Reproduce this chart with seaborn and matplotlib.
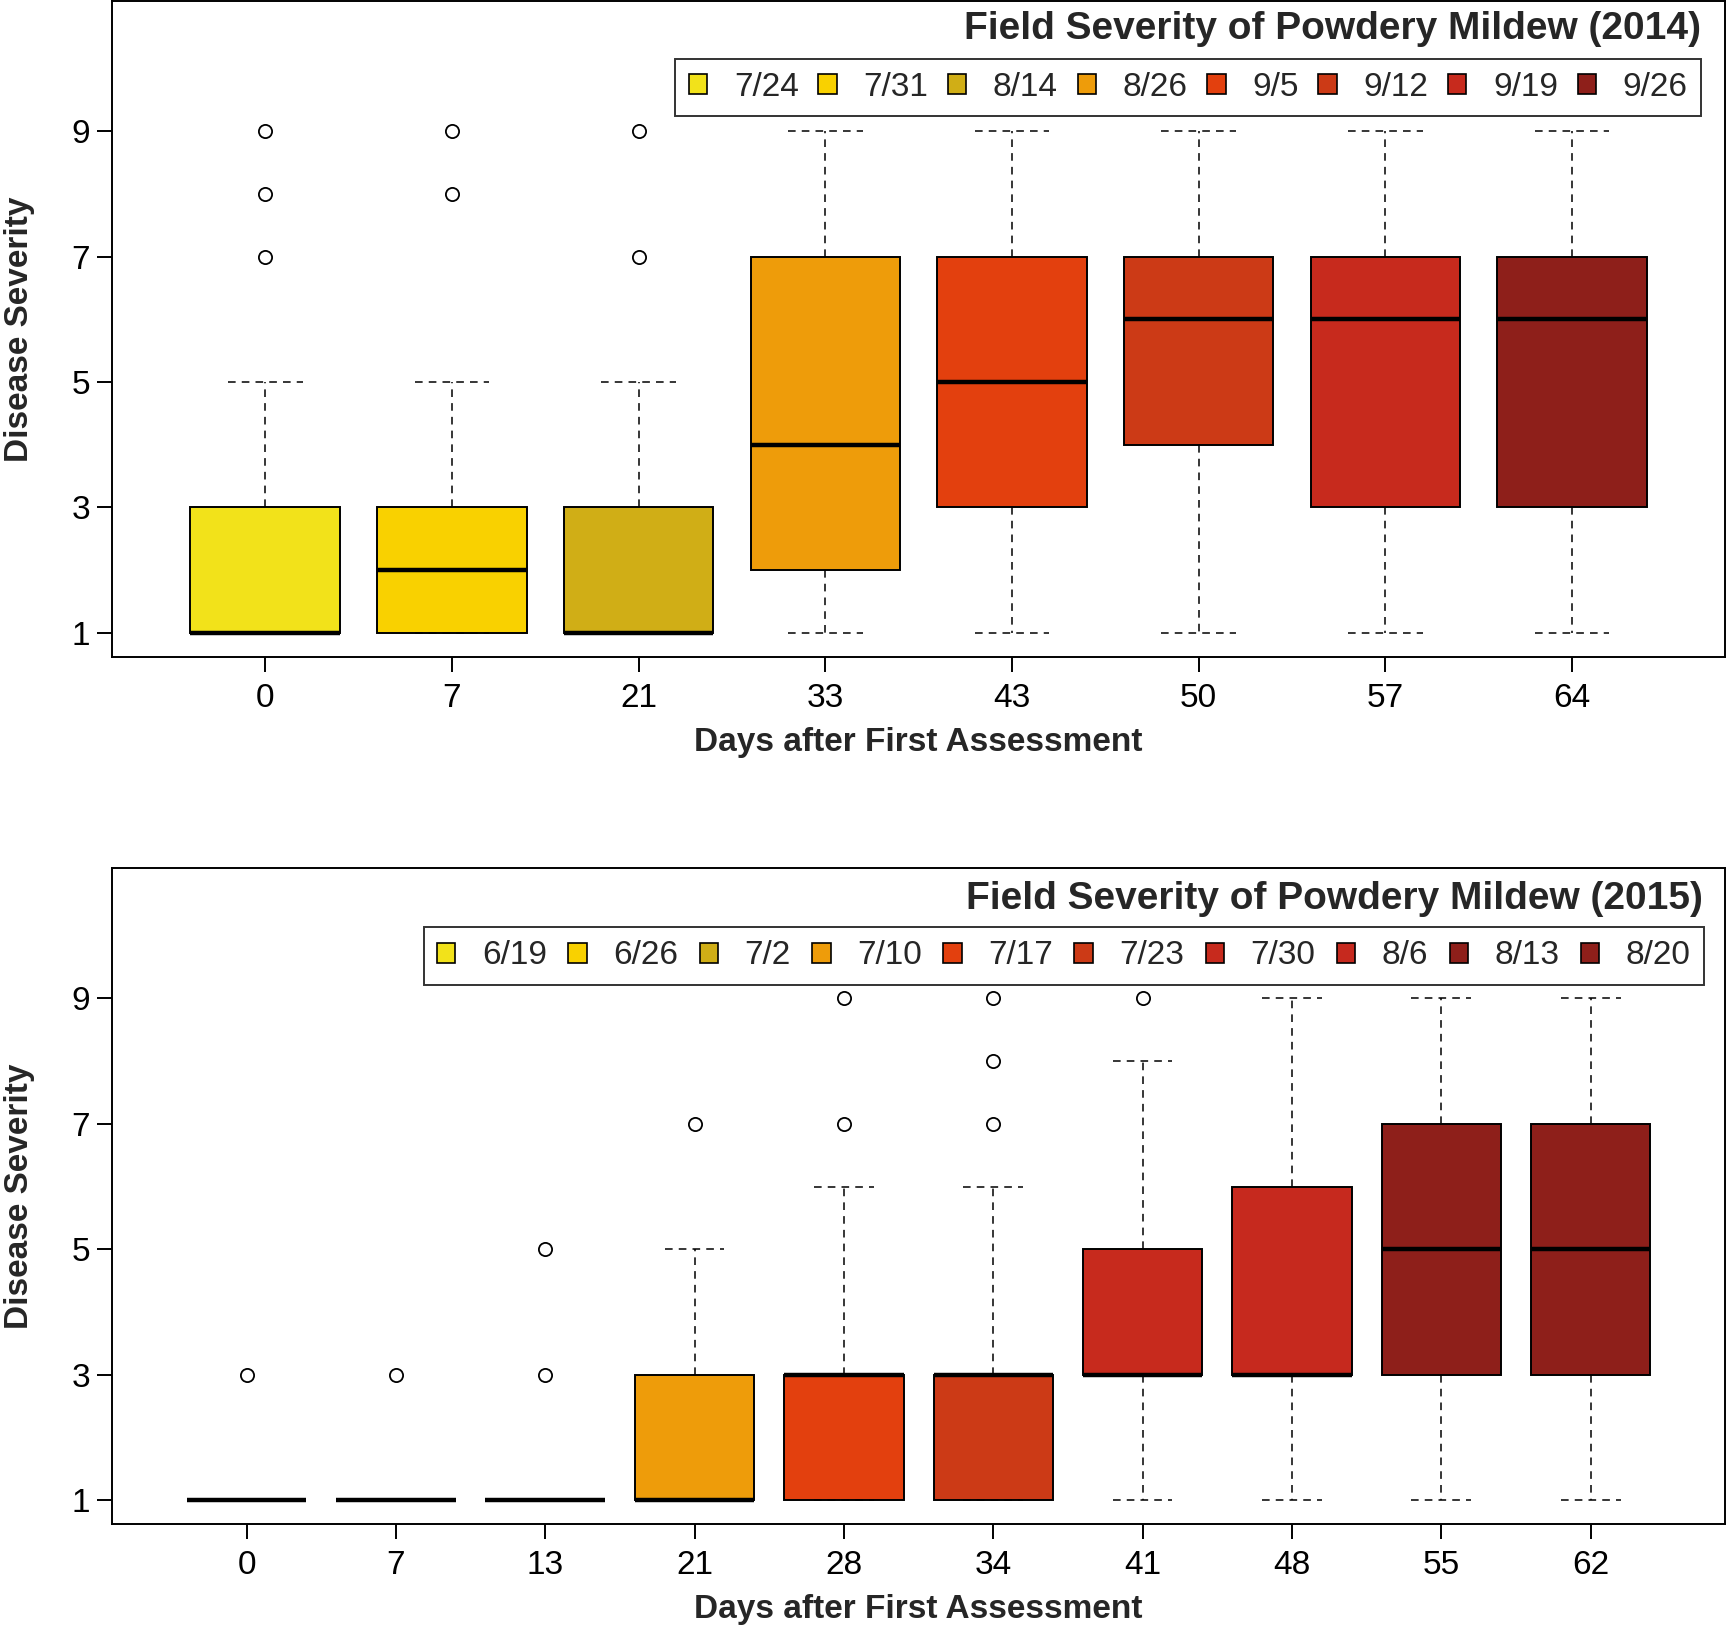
import numpy as np
import pandas as pd
import matplotlib
matplotlib.use("Agg")
import matplotlib.pyplot as plt
import seaborn as sns
from matplotlib.patches import Patch

# severity rating scale (1-9)
scores = [1, 2, 3, 4, 5, 6, 7, 8, 9]

# 2014 season
days_2014 = ["0", "7", "21", "33", "43", "50", "57", "64"]
dates_2014 = ["7/24", "7/31", "8/14", "8/26", "9/5", "9/12", "9/19", "9/26"]
# number of plots given each rating 1..9, one row per assessment
counts_2014 = [
    [11, 2, 3, 1, 1, 0, 1, 1, 1],
    [6, 5, 5, 1, 2, 0, 0, 1, 1],
    [11, 2, 3, 1, 2, 0, 1, 0, 1],
    [3, 3, 2, 3, 2, 1, 3, 2, 2],
    [2, 2, 3, 2, 3, 2, 3, 2, 2],
    [2, 1, 2, 2, 2, 3, 4, 3, 2],
    [2, 2, 3, 1, 1, 3, 4, 3, 2],
    [2, 1, 4, 1, 2, 2, 4, 2, 3],
]
colors_2014 = ["#F2E21A", "#F9D100", "#D0AE16", "#EE9C0A",
               "#E3400E", "#CC3A16", "#C72A1D", "#8E1F1A"]

# 2015 season
days_2015 = ["0", "7", "13", "21", "28", "34", "41", "48", "55", "62"]
dates_2015 = ["6/19", "6/26", "7/2", "7/10", "7/17", "7/23", "7/30", "8/6", "8/13", "8/20"]
counts_2015 = [
    [20, 0, 1, 0, 0, 0, 0, 0, 0],
    [20, 0, 1, 0, 0, 0, 0, 0, 0],
    [19, 0, 1, 0, 1, 0, 0, 0, 0],
    [11, 2, 3, 2, 2, 0, 1, 0, 0],
    [6, 3, 7, 1, 1, 1, 1, 0, 1],
    [6, 3, 7, 1, 0, 1, 1, 1, 1],
    [2, 2, 7, 2, 3, 2, 1, 1, 1],
    [2, 2, 7, 2, 1, 3, 2, 1, 1],
    [2, 2, 3, 2, 3, 2, 3, 2, 2],
    [2, 1, 4, 2, 2, 2, 3, 3, 2],
]
colors_2015 = ["#F2E21A", "#F9D100", "#D0AE16", "#EE9C0A", "#E3400E",
               "#CC3A16", "#C72A1D", "#C6291E", "#8E1F1A", "#8E1F1A"]

sns.set_style("white")
plt.rcParams["font.family"] = ["Liberation Sans", "DejaVu Sans"]


def to_long(days, counts):
    rows = []
    for day, cnt in zip(days, counts):
        for s in np.repeat(scores, cnt):
            rows.append({"day": day, "severity": s})
    return pd.DataFrame(rows)


def draw_panel(ax, days, dates, counts, colors, title, title_x, title_y, leg_x, leg_y, colspace):
    df = to_long(days, counts)
    dash = (0, (5, 4))
    sns.boxplot(data=df, x="day", y="severity", hue="day", order=days, hue_order=days,
                palette=colors, saturation=1, width=0.8, linewidth=1.4,
                linecolor="black", legend=False, ax=ax,
                whiskerprops=dict(linestyle=dash, linewidth=1.1, color="black"),
                capprops=dict(linestyle=dash, linewidth=1.1, color="black"),
                medianprops=dict(linewidth=3.2, color="black", solid_capstyle="butt"),
                flierprops=dict(marker="o", markerfacecolor="none", markeredgecolor="black",
                                markersize=9.5, markeredgewidth=1.3))
    n = len(days)
    pad = 0.5 + 0.04 * n
    ax.set_xlim(-pad, n - 1 + pad)
    ax.set_ylim(0.615, 11.08)
    ax.set_yticks([1, 3, 5, 7, 9])
    ax.tick_params(axis="both", labelsize=24, length=11, width=1.4, direction="out",
                   color="black", labelcolor="black", bottom=True, left=True)
    ax.tick_params(axis="y", pad=5)
    ax.tick_params(axis="x", pad=8)
    for sp in ax.spines.values():
        sp.set_color("black")
        sp.set_linewidth(1.4)
    ax.set_xlabel("Days after First Assessment", fontsize=24, fontweight="bold")
    ax.set_ylabel("Disease Severity", fontsize=24, fontweight="bold")
    ax.xaxis.label.set_va("center")
    ax.xaxis.set_label_coords(0.5, -0.131)
    ax.yaxis.label.set_va("center")
    ax.yaxis.set_label_coords(-0.0577, 0.5)
    ax.text(title_x, title_y, title, transform=ax.transAxes, ha="right", va="center",
            fontsize=28, fontweight="bold")
    handles = [Patch(facecolor=c, edgecolor="black", linewidth=1.2) for c in colors]
    leg = ax.legend(handles, dates, loc="upper right", bbox_to_anchor=(leg_x, leg_y),
                    ncol=n, frameon=True, fancybox=False, edgecolor="black", fontsize=24,
                    handlelength=0.55, handleheight=0.55, handletextpad=0.8,
                    columnspacing=colspace, borderpad=0.4, borderaxespad=0)
    leg.get_frame().set_linewidth(1.4)


fig = plt.figure(figsize=(17.27, 16.37), dpi=100)
ax1 = fig.add_axes([0.0649, 0.5987, 0.934, 0.4007])
ax2 = fig.add_axes([0.0649, 0.069, 0.934, 0.4007])

draw_panel(ax1, days_2014, dates_2014, counts_2014, colors_2014,
           "Field Severity of Powdery Mildew (2014)", 0.985, 0.957, 0.985, 0.912, 0.59)
draw_panel(ax2, days_2015, dates_2015, counts_2015, colors_2015,
           "Field Severity of Powdery Mildew (2015)", 0.986, 0.953, 0.987, 0.910, 0.64)

fig.savefig("out.png", dpi=100)
